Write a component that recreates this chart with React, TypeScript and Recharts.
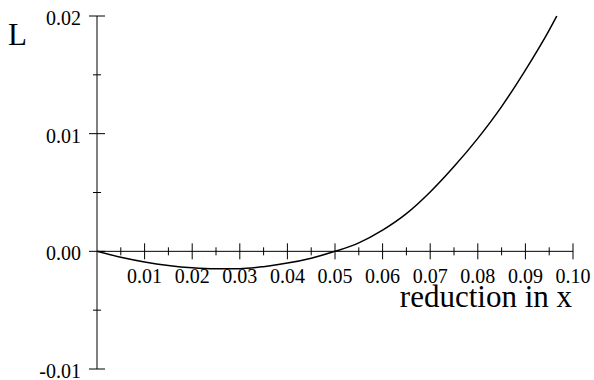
import { LineChart, Line, XAxis, YAxis, ReferenceLine, ReferenceDot } from 'recharts'

const FONT = "'Liberation Serif', 'DejaVu Serif', Times, serif"

const reduction = [0, 0.005, 0.01, 0.015, 0.02, 0.025, 0.03, 0.035, 0.04, 0.045, 0.05, 0.055, 0.06, 0.065, 0.07, 0.075, 0.08, 0.085, 0.09, 0.095, 0.0966]
const lossValues = [0, -0.0005, -0.0009, -0.0012, -0.0014, -0.00148, -0.00147, -0.0013, -0.001, -0.00058, 0, 0.00072, 0.0018, 0.0032, 0.00504, 0.0072, 0.0096, 0.0123, 0.0154, 0.0188, 0.02]

const xMajorTicks = [0.01, 0.02, 0.03, 0.04, 0.05, 0.06, 0.07, 0.08, 0.09, 0.1]
const xMinorTicks = [0.005, 0.015, 0.025, 0.035, 0.045, 0.055, 0.065, 0.075, 0.085, 0.095]
const yTicks = [-0.01, -0.005, 0, 0.005, 0.01, 0.015, 0.02]

const data = reduction.map((x, i) => ({ x, L: lossValues[i] }))

const isMajorY = (v: number) => Math.round(v * 1000) % 10 === 0

function YTick(props: any) {
  const { x, y, payload } = props
  const major = isMajorY(payload.value)
  const len = major ? 8 : 4
  return (
    <g>
      <line x1={x - len} x2={x + len} y1={y} y2={y} stroke="#000" strokeWidth={1} />
      {major && (
        <text x={x - 16} y={y + 9} textAnchor="end" fill="#000" style={{ fontSize: 20, fontFamily: FONT }}>
          {payload.value.toFixed(2)}
        </text>
      )}
    </g>
  )
}

function xTick(major: boolean, label: string) {
  return (p: any) => {
    const len = major ? 8 : 4
    return (
      <g>
        <line x1={p.cx} x2={p.cx} y1={p.cy - len} y2={p.cy + len} stroke="#000" strokeWidth={1} />
        {major && (
          <text x={p.cx} y={p.cy + 32} textAnchor="middle" fill="#000" style={{ fontSize: 20, fontFamily: FONT }}>
            {label}
          </text>
        )}
      </g>
    )
  }
}

export default function App() {
  return (
    <div style={{ position: 'absolute', left: 0, top: 0, background: '#fff', fontFamily: FONT }}>
      <LineChart width={594} height={380} data={data} margin={{ top: 16, right: 21, bottom: 11, left: 0 }}>
        <XAxis dataKey="x" type="number" domain={[0, 0.1]} hide />
        <YAxis
          type="number"
          domain={[-0.01, 0.02]}
          ticks={yTicks}
          width={97}
          tickSize={0}
          tickMargin={0}
          tickLine={false}
          axisLine={{ stroke: '#000', strokeWidth: 1 }}
          tick={<YTick />}
          interval={0}
        />
        <ReferenceLine y={0} stroke="#000" strokeWidth={1} />
        {xMinorTicks.map((v) => (
          <ReferenceDot key={'m' + v} x={v} y={0} r={0} shape={xTick(false, '')} />
        ))}
        {xMajorTicks.map((v) => (
          <ReferenceDot key={'M' + v} x={v} y={0} r={0} shape={xTick(true, v.toFixed(2))} />
        ))}
        <Line type="monotone" dataKey="L" stroke="#000" strokeWidth={1.5} dot={false} isAnimationActive={false} />
        <text x={8} y={45} fill="#000" style={{ fontSize: 31, fontFamily: FONT }}>L</text>
        <text x={572} y={307} textAnchor="end" fill="#000" style={{ fontSize: 31, fontFamily: FONT }}>reduction in x</text>
      </LineChart>
    </div>
  )
}
